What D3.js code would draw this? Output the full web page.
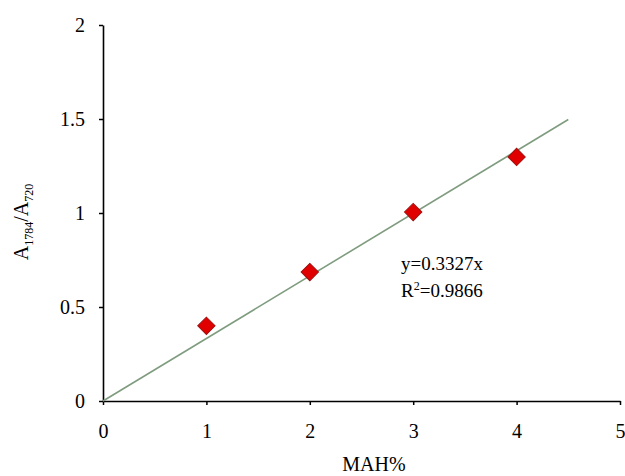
<!DOCTYPE html>
<html>
<head>
<meta charset="utf-8">
<script src="https://cdn.jsdelivr.net/npm/d3@7"></script>
<style>
  body { margin: 0; background: #fff; }
  text { font-family: "Liberation Serif", "Times New Roman", serif; fill: #000; }
</style>
</head>
<body>
<svg id="chart" width="625" height="476"></svg>
<script>
// data
const mahPct = [1, 2, 3, 4];
const ratio = [0.40, 0.686, 1.005, 1.298];
const slope = 0.3327;
const fitRange = [0, 4.5];
const xTicks = [0, 1, 2, 3, 4, 5];
const yTicks = [0, 0.5, 1, 1.5, 2];

const svg = d3.select("#chart");

// scales
const x = d3.scaleLinear().domain([0, 5]).range([103, 620]);
const y = d3.scaleLinear().domain([0, 2]).range([401, 25]);

// X AXIS
const xAxis = svg.append("g").attr("transform", `translate(0,${y(0)})`)
  .call(d3.axisBottom(x).tickValues(xTicks).tickFormat(d3.format("d")).tickSizeInner(4).tickSizeOuter(0).tickPadding(19));
xAxis.select(".domain").attr("stroke", "#000").attr("stroke-width", 1.6);
xAxis.selectAll(".tick line").attr("stroke", "#000").attr("stroke-width", 1.5);
xAxis.selectAll("text").attr("font-size", 20);

// Y AXIS
const yAxis = svg.append("g").attr("transform", `translate(${x(0)},0)`)
  .call(d3.axisLeft(y).tickValues(yTicks).tickFormat(d => d).tickSizeInner(4).tickSizeOuter(0).tickPadding(14));
yAxis.select(".domain").attr("stroke", "#000").attr("stroke-width", 1.6);
yAxis.selectAll(".tick line").attr("stroke", "#000").attr("stroke-width", 1.5);
yAxis.selectAll("text").attr("font-size", 20);

// FIT LINE
svg.append("line")
  .attr("x1", x(fitRange[0])).attr("y1", y(slope * fitRange[0]))
  .attr("x2", x(fitRange[1])).attr("y2", y(slope * fitRange[1]))
  .attr("stroke", "#7f9c7f").attr("stroke-width", 1.6);

// POINTS (red diamonds)
const diamond = d3.symbol().type(d3.symbolSquare).size(150);
svg.selectAll(".pt").data(mahPct).join("path")
  .attr("class", "pt")
  .attr("d", diamond)
  .attr("transform", (d, i) => `translate(${x(d)},${y(ratio[i])}) rotate(45)`)
  .attr("fill", "#e00000").attr("stroke", "#a01010").attr("stroke-width", 1);

// EQUATION
const eq = svg.append("g").attr("font-size", 19);
eq.append("text").attr("x", 401).attr("y", 270).text("y=0.3327x");
const r2 = eq.append("text").attr("x", 401).attr("y", 297);
r2.append("tspan").text("R");
r2.append("tspan").attr("font-size", 12).attr("dy", -7).text("2");
r2.append("tspan").attr("dy", 7).text("=0.9866");

// AXIS TITLES
svg.append("text").attr("x", 374).attr("y", 471).attr("text-anchor", "middle")
  .attr("font-size", 20).text("MAH%");

const yl = svg.append("text").attr("transform", "translate(28,222) rotate(-90)")
  .attr("text-anchor", "middle").attr("font-size", 20);
yl.append("tspan").text("A");
yl.append("tspan").attr("font-size", 12).attr("dy", 5).text("1784");
yl.append("tspan").attr("dy", -5).text("/A");
yl.append("tspan").attr("font-size", 12).attr("dy", 5).text("720");
</script>
</body>
</html>
